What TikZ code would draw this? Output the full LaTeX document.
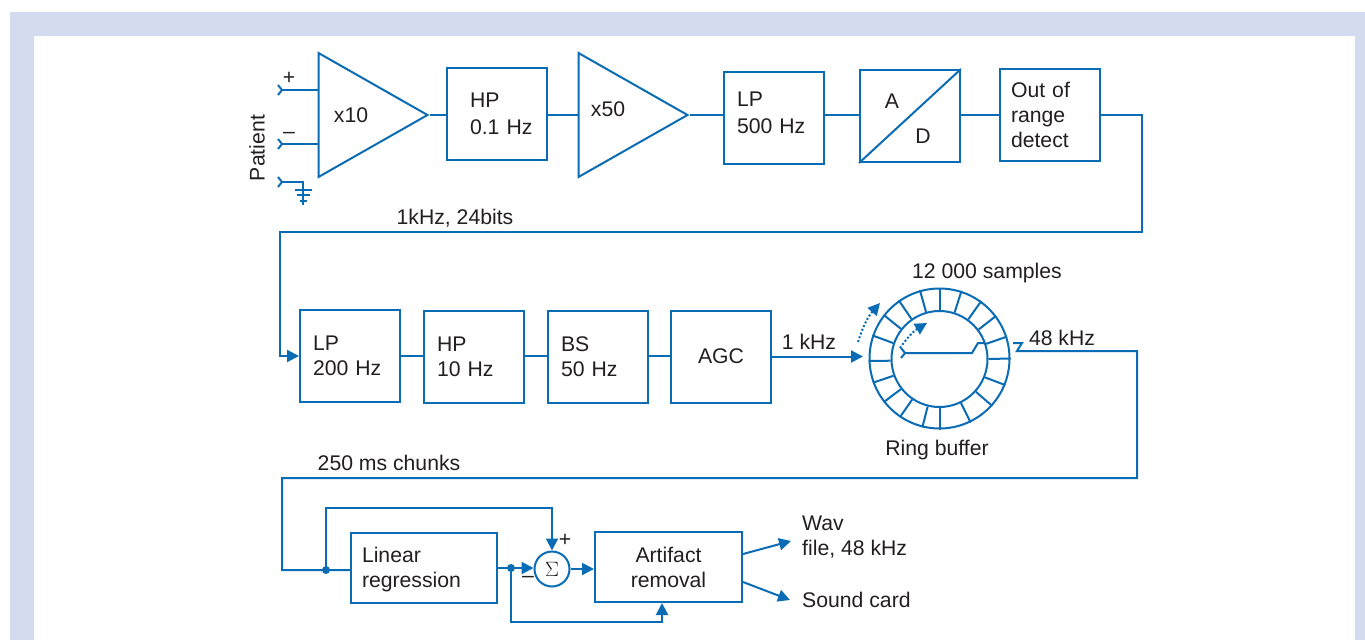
\documentclass[tikz,border=0pt]{standalone}
\usepackage{fontspec}
\setmainfont{Liberation Sans}
\usetikzlibrary{arrows.meta,shapes.geometric}
\definecolor{linecol}{RGB}{10,108,180}
\definecolor{textcol}{RGB}{35,31,32}
\definecolor{bandcol}{RGB}{211,220,238}
\tikzset{
    blockbox/.style={draw=linecol, line width=2pt, align=left, text=textcol, inner sep=0pt, minimum width=100pt, minimum height=92pt},
    inset/.style={inner xsep=#1, text width=100pt-2*#1},
    ampbox/.style={draw=linecol, line width=2pt, shape=isosceles triangle, isosceles triangle stretches, minimum width=124pt, minimum height=109pt, inner sep=0pt, anchor=lower side},
    ringbox/.style={circle, draw=linecol, line width=2pt, inner sep=0pt},
    wire/.style={draw=linecol, line width=2pt},
    arrowwire/.style={wire, -{Triangle[length=12pt,width=12pt]}},
    dotwire/.style={wire, dotted, -{Triangle[length=12pt,width=12pt]}},
    forkwire/.style={wire, {Straight Barb[reversed,length=4pt,width=10pt]}-},
    tag/.style={text=textcol, inner sep=0pt},
    junction/.style={circle, fill=linecol, inner sep=0pt, minimum size=8pt},
}
\begin{document}
\begin{tikzpicture}[x=1pt, y=-1pt, font=\fontsize{21.2}{25}\selectfont]
    \useasboundingbox (0,0) rectangle (1365,640);
    \fill[bandcol] (10,12) rectangle (1365,640);
    \fill[white] (34,36) rectangle (1355,640);

    \node[ampbox] (ampten) at (317.5,115) {};
    \node[tag] (amptenlabel) at (351,115) {x10};
    \node[blockbox, inset=23pt] (hpone) at (497,114) {HP\\[2pt]\mbox{0.1 Hz}};
    \node[ampbox] (ampfifty) at (577.5,115) {};
    \node[tag] (ampfiftylabel) at (608,109) {x50};
    \node[blockbox, inset=13pt, text depth=37pt] (lpfive) at (774,118) {LP\\[2pt]500 Hz};
    \node[blockbox] (adc) at (910,116) {};
    \node[tag] (adca) at (892,101) {A};
    \node[tag] (adcd) at (923,136) {D};
    \node[blockbox, inset=11pt] (range) at (1050,115) {Out of\\range\\detect};

    \coordinate (plusin) at (277,90);
    \coordinate (plusamp) at (318,90);
    \coordinate (minusin) at (277,144);
    \coordinate (minusamp) at (318,144);
    \coordinate (groundin) at (277,182);
    \coordinate (groundbend) at (303,182);
    \coordinate (groundend) at (303,205);
    \node[tag] (pluslabel) at (289,78) {+};
    \node[tag] (minuslabel) at (289,135) {--};
    \node[tag, rotate=90] (patient) at (257,148) {Patient};
    \draw[forkwire] (plusin) -- (plusamp);
    \draw[forkwire] (minusin) -- (minusamp);
    \draw[forkwire] (groundin) -- (groundbend) -- (groundend);
    \draw[wire] (295,190) -- (312,190);
    \draw[wire] (297,195) -- (310,195);
    \draw[wire] (300,200.5) -- (307,200.5);

    \draw[wire] (ampten.apex) -- (hpone.west |- ampten.apex);
    \draw[wire] (hpone.east |- ampten.apex) -- (ampfifty.lower side |- ampten.apex);
    \draw[wire] (ampfifty.apex) -- (lpfive.west |- ampfifty.apex);
    \draw[wire] (lpfive.east |- ampfifty.apex) -- (adc.west |- ampfifty.apex);
    \draw[wire] (adc.east |- ampfifty.apex) -- (range.west |- ampfifty.apex);
    \draw[wire] (adc.south west) -- (adc.north east);

    \node[blockbox, inset=13pt] (lptwo) at (350,355.5) {LP\\200 Hz};
    \node[blockbox, inset=13pt] (hpten) at (474,356.5) {HP\\10 Hz};
    \node[blockbox, inset=13pt] (bsfifty) at (598,356.5) {BS\\50 Hz};
    \node[blockbox] (agc) at (721,356.5) {AGC};
    \node[tag] (ratelabel) at (455,218) {1kHz, 24bits};
    \draw[arrowwire] (range.east |- ampfifty.apex) -- (1142,115) -- (1142,232) -- (280,232) -- (280,356) -- (lptwo.west |- 0,356);
    \draw[wire] (lptwo.east |- 0,356) -- (hpten.west |- 0,356);
    \draw[wire] (hpten.east |- 0,356) -- (bsfifty.west |- 0,356);
    \draw[wire] (bsfifty.east |- 0,356) -- (agc.west |- 0,356);

    \node[ringbox, minimum size=140pt] (ringout) at (939.5,358.5) {};
    \node[ringbox, minimum size=96pt] (ringin) at (939.5,359) {};
    \foreach \ang in {90,72,54,37,18,0,-22,-42,-64,-90,-104,-124,-142,-160,-178,161,142,125,106} {
        \draw[wire] (ringin.\ang) -- (ringout.\ang);
    }
    \node[tag] (samples) at (987,273) {12 000 samples};
    \node[tag] (ringlabel) at (937,450) {Ring buffer};
    \node[tag] (inlabel) at (809,342) {1 kHz};
    \node[tag] (outlabel) at (1062,338) {48 kHz};
    \coordinate (ringfeed) at (863,356.5);
    \draw[arrowwire] (agc.east) -- (ringfeed);
    \draw[dotwire] (858,342) to[bend left=12] (880,303);
    \draw[dotwire] (900,348) to[bend left=12] (927,323);
    \draw[forkwire] (900,353) -- (972,353) -- (978,343) -- (985,343);

    \node[blockbox, minimum width=146pt, minimum height=70pt, inner xsep=11pt, text width=124pt, text depth=27pt] (linreg) at (424,568) {Linear\\regression};
    \node[ringbox, minimum size=35pt, text=textcol] (sigma) at (552,569) {$\Sigma$};
    \node[blockbox, minimum width=147pt, minimum height=70pt, align=center] (artifact) at (668.5,567) {Artifact\\removal};
    \node[junction] (dotin) at (326,570) {};
    \node[junction] (dotout) at (511,568) {};
    \node[tag] (chunks) at (389,463) {250 ms chunks};
    \node[tag] (sumplus) at (565,540) {+};
    \node[tag] (summinus) at (528,579) {--};
    \node[tag, anchor=west, align=left] (wavlabel) at (802,537) {Wav\\file, 48 kHz};
    \node[tag, anchor=west] (soundlabel) at (802,600) {Sound card};

    \draw[wire] (1013,343) -- (1022,343) -- (1017,351) -- (1137,351) -- (1137,478) -- (282,478) -- (282,570) -- (dotin.center) -- (linreg.west |- dotin);
    \draw[arrowwire] (dotin.center) -- (326,508) -- (sigma.north |- 0,508) -- (sigma.north);
    \draw[wire] (linreg.east |- dotout) -- (dotout.center);
    \draw[arrowwire] (dotout.center) -- (sigma.west |- dotout);
    \draw[arrowwire] (sigma.east) -- (artifact.west |- sigma);
    \draw[arrowwire] (dotout.center) -- (511,622) -- (662,622) -- (artifact.south -| 662,0);
    \coordinate (wavend) at (791,541);
    \coordinate (soundend) at (790,600);
    \draw[arrowwire] (artifact.east |- 0,554) -- (wavend);
    \draw[arrowwire] (artifact.east |- 0,582) -- (soundend);
\end{tikzpicture}
\end{document}
